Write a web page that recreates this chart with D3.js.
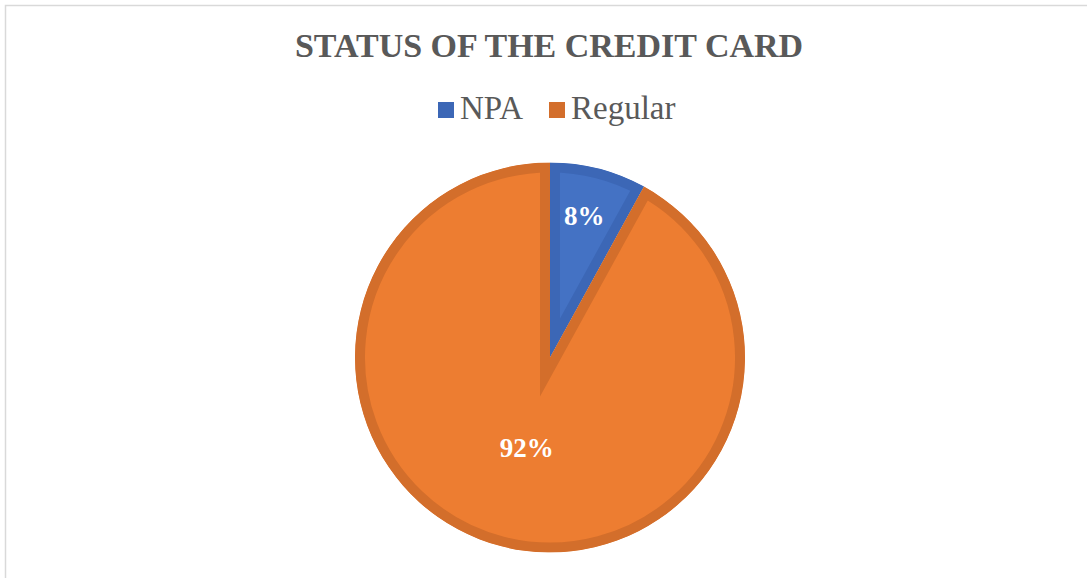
<!DOCTYPE html>
<html>
<head>
<meta charset="utf-8">
<script src="https://cdn.jsdelivr.net/npm/d3@7"></script>
<style>
  html, body { margin: 0; padding: 0; background: #fff; }
  svg { display: block; }
</style>
</head>
<body>
<svg id="chart" width="1087" height="578"></svg>
<script>
// Card status shares (percent)
const categories = ["NPA", "Regular"];
const values = [8, 92];
const fillColors = ["#4472C4", "#ED7D31"];
const edgeColors = ["#3C67B6", "#D36E2B"];
const title = "STATUS OF THE CREDIT CARD";

const W = 1087, H = 578;
const svg = d3.select("#chart");

// chart area frame (runs off the right and bottom edges)
svg.append("rect")
  .attr("x", 5.5).attr("y", 5.5)
  .attr("width", W + 10).attr("height", H + 10)
  .attr("fill", "#fff")
  .attr("stroke", "#d9d9d9")
  .attr("stroke-width", 1.5);

const serif = "'Liberation Serif', 'Times New Roman', serif";

// title
svg.append("text")
  .attr("x", 549).attr("y", 57)
  .attr("text-anchor", "middle")
  .attr("font-family", serif)
  .attr("font-weight", "bold")
  .attr("font-size", 34)
  .attr("fill", "#595959")
  .text(title);

// legend
const legend = svg.append("g");
let lx = 438;
categories.forEach((c, i) => {
  legend.append("rect")
    .attr("x", lx).attr("y", 102)
    .attr("width", 16).attr("height", 16)
    .attr("fill", edgeColors[i]);
  const t = legend.append("text")
    .attr("x", lx + 22).attr("y", 119)
    .attr("font-family", serif)
    .attr("font-size", 33)
    .attr("fill", "#595959")
    .text(c);
  lx += 22 + t.node().getComputedTextLength() + 26;
});

// pie
const cx = 550, cy = 357.5, R = 195;
const pie = d3.pie().sort(null).value(d => d)(values);
const arc = d3.arc().innerRadius(0).outerRadius(R);

const g = svg.append("g").attr("transform", `translate(${cx},${cy})`);
const defs = svg.append("defs");

pie.forEach((p, i) => {
  const d = arc(p);
  defs.append("clipPath").attr("id", "slice-clip-" + i)
    .append("path").attr("d", d);
  // fill plus a doubled-width stroke clipped to the slice gives an inner border
  g.append("path")
    .attr("d", d)
    .attr("fill", fillColors[i])
    .attr("stroke", edgeColors[i])
    .attr("stroke-width", 20)
    .attr("stroke-linejoin", "miter")
    .attr("stroke-miterlimit", 20)
    .attr("clip-path", `url(#slice-clip-${i})`);
});

// data labels
const labelArcs = [
  d3.arc().innerRadius(R * 0.75).outerRadius(R * 0.75),
  d3.arc().innerRadius(R * 0.48).outerRadius(R * 0.48)
];
pie.forEach((p, i) => {
  const [x, y] = labelArcs[i].centroid(p);
  g.append("text")
    .attr("x", x - (i === 0 ? 2 : 0)).attr("y", y)
    .attr("text-anchor", "middle")
    .attr("dominant-baseline", "central")
    .attr("font-family", serif)
    .attr("font-weight", "bold")
    .attr("font-size", 27)
    .attr("fill", "#ffffff")
    .text(values[i] + "%");
});
</script>
</body>
</html>
